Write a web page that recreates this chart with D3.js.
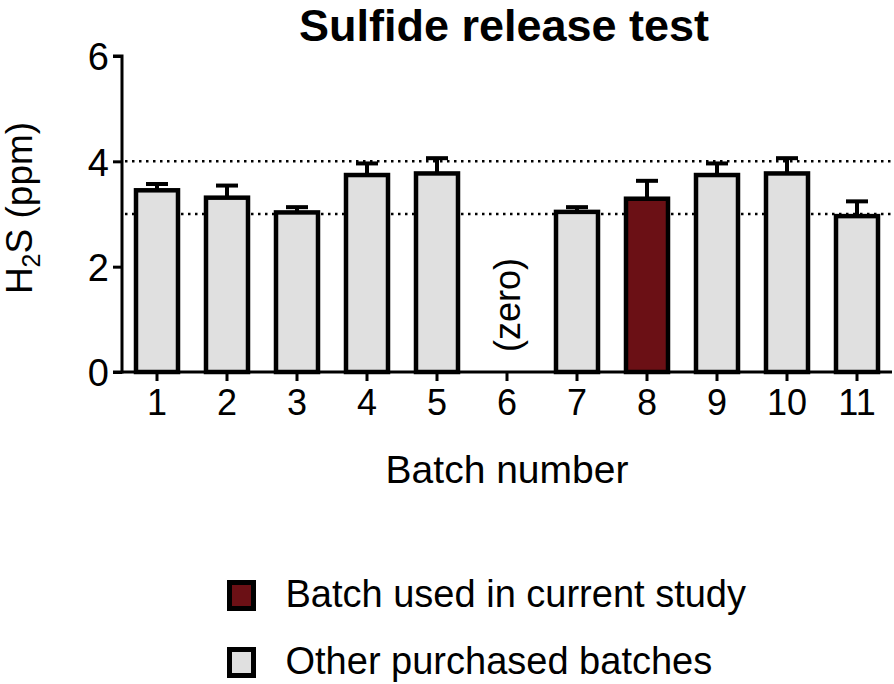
<!DOCTYPE html>
<html>
<head>
<meta charset="utf-8">
<script src="https://d3js.org/d3.v7.min.js"></script>
<style>
  body { margin: 0; background: #fff; }
  text { font-family: 'Liberation Sans', Arial, sans-serif; fill: #000; }
</style>
</head>
<body>
<div class="chart"></div>
<script>
var batches = ['1', '2', '3', '4', '5', '6', '7', '8', '9', '10', '11'];
var means = [3.45, 3.31, 3.03, 3.74, 3.77, 0, 3.04, 3.29, 3.74, 3.77, 2.96];
var errors = [0.12, 0.23, 0.1, 0.22, 0.29, 0, 0.09, 0.34, 0.22, 0.29, 0.28];
var currentBatch = '8';
var zeroBatch = '6';
var refLines = [3, 4];
var yTicks = [0, 2, 4, 6];
var legendItems = ['Batch used in current study', 'Other purchased batches'];

var width = 894, height = 684;
var svg = d3.select('.chart')
    .append('svg')
    .attr('width', width)
    .attr('height', height);

var x = d3.scaleBand()
    .domain(batches)
    .range([122, 892])
    .paddingInner(0.4)
    .paddingOuter(0.2);

var y = d3.scaleLinear()
    .domain([0, 6])
    .range([372, 56]);

var red = '#6b1015', grey = '#e0e0e0';

// title
svg.append('text')
    .attr('x', 504)
    .attr('y', 41)
    .attr('text-anchor', 'middle')
    .style('font-size', '45px')
    .style('font-weight', 'bold')
    .text('Sulfide release test');

// reference lines
svg.selectAll('.ref')
    .data(refLines)
    .enter()
    .append('line')
    .attr('x1', 125)
    .attr('x2', 892)
    .attr('y1', d => y(d))
    .attr('y2', d => y(d))
    .attr('stroke', '#000')
    .attr('stroke-width', 2.5)
    .attr('stroke-dasharray', '2.5,4.5');

var bars = svg.selectAll('.bar')
    .data(batches.map((b, i) => ({ b: b, v: means[i], e: errors[i] })).filter(d => d.v > 0))
    .enter()
    .append('g')
    .attr('class', 'bar');

bars.append('line')
    .attr('x1', d => x(d.b) + x.bandwidth() / 2)
    .attr('x2', d => x(d.b) + x.bandwidth() / 2)
    .attr('y1', d => y(d.v))
    .attr('y2', d => y(d.v + d.e))
    .attr('stroke', '#000')
    .attr('stroke-width', 4);

bars.append('line')
    .attr('x1', d => x(d.b) + x.bandwidth() / 2 - 11)
    .attr('x2', d => x(d.b) + x.bandwidth() / 2 + 11)
    .attr('y1', d => y(d.v + d.e))
    .attr('y2', d => y(d.v + d.e))
    .attr('stroke', '#000')
    .attr('stroke-width', 4);

bars.append('rect')
    .attr('x', d => x(d.b))
    .attr('y', d => y(d.v))
    .attr('width', x.bandwidth())
    .attr('height', d => y(0) - y(d.v))
    .attr('fill', d => d.b === currentBatch ? red : grey)
    .attr('stroke', '#000')
    .attr('stroke-width', 4.5);

// zero label
svg.append('text')
    .attr('transform', 'translate(' + (x(zeroBatch) + x.bandwidth() / 2 + 13) + ',' + 305 + ') rotate(-90)')
    .attr('text-anchor', 'middle')
    .style('font-size', '36px')
    .text('(zero)');

// axes
var yAxis = d3.axisLeft(y).tickValues(yTicks).tickFormat(d3.format('d')).tickSize(9).tickPadding(4);
var gy = svg.append('g')
    .attr('transform', 'translate(122,0)')
    .call(yAxis);
gy.select('.domain').attr('stroke-width', 3).attr('d', 'M-9,' + y(6) + 'H0V' + y(0) + 'H-9');
gy.selectAll('.tick line').attr('stroke-width', 3);
gy.selectAll('.tick text').style('font-size', '38px').attr('font-family', null).attr('dy', '0.36em');

var xAxis = d3.axisBottom(x).tickSize(9).tickPadding(8);
var gx = svg.append('g')
    .attr('transform', 'translate(0,372)')
    .call(xAxis);
gx.select('.domain').attr('stroke-width', 3).attr('d', 'M122,0H892');
gx.selectAll('.tick line').attr('stroke-width', 3);
gx.selectAll('.tick text').style('font-size', '36px').attr('font-family', null);

// axis titles
svg.append('text')
    .attr('x', 507)
    .attr('y', 483)
    .attr('text-anchor', 'middle')
    .style('font-size', '39px')
    .text('Batch number');

var yt = svg.append('text')
    .attr('transform', 'translate(32,208) rotate(-90)')
    .attr('text-anchor', 'middle')
    .style('font-size', '37px');
yt.append('tspan').text('H');
yt.append('tspan').attr('dy', 8).style('font-size', '25px').text('2');
yt.append('tspan').attr('dy', -8).text('S (ppm)');

// legend
var legend = svg.selectAll('.legend')
    .data(legendItems)
    .enter()
    .append('g')
    .attr('class', 'legend')
    .attr('transform', (d, i) => 'translate(229.5,' + (582.5 + i * 67) + ')');

legend.append('rect')
    .attr('width', 24)
    .attr('height', 26)
    .attr('fill', (d, i) => i === 0 ? red : grey)
    .attr('stroke', '#000')
    .attr('stroke-width', 5);

legend.append('text')
    .attr('x', 56)
    .attr('y', 24)
    .style('font-size', '38px')
    .text(d => d);
</script>
</body>
</html>
